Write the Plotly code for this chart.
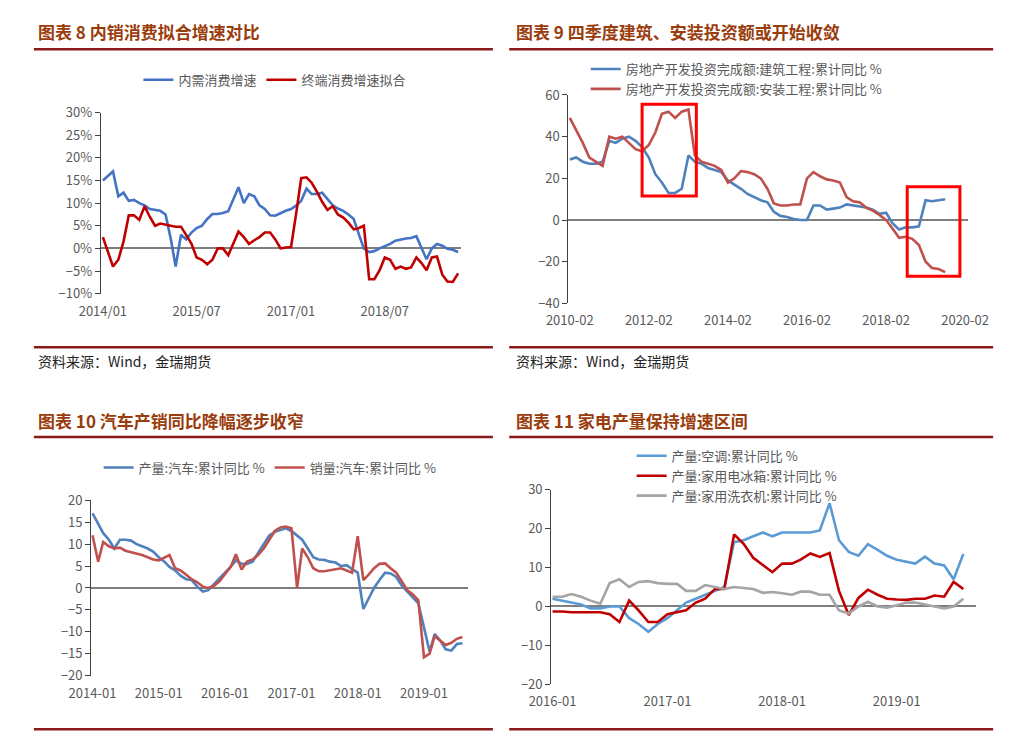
import pandas as pd
import plotly.graph_objects as go

W, H = 1009, 739
FONT = "Noto Sans CJK SC"

# ---- 图表8 内销消费拟合增速对比 (monthly from 2014-01, %) ----
c8_dates = pd.date_range("2014-01-01", periods=69, freq="MS")
c8_domestic = [15, 16, 17, 11.5, 12.3, 10.5, 10.7, 10, 9.5, 8.7, 8.5, 8.3, 7.5, 2, -4, 3, 2, 3.5, 4.5, 5,
               6.5, 7.6, 7.6, 7.8, 8.2, 11, 13.5, 10, 12, 11.5, 9.5, 8.7, 7.3, 7.2, 7.8, 8.3, 8.7, 9.5, 10.5, 13.2,
               12, 12, 12.3, 11, 9.5, 8.8, 8.3, 7.5, 6.5, 3, 0, -0.8, -0.6, 0, 0.5, 1, 1.7, 2, 2.2, 2.3,
               2.7, 0, -2.4, 0, 1, 0.6, -0.1, -0.3, -0.8]
c8_fitted = [2.5, -1, -4, -2.5, 1.5, 7.3, 7.3, 6.3, 9.3, 7, 5, 5.5, 5.2, 5, 4.8, 4.8, 3, 1, -2, -2.5,
             -3.5, -2.5, 0, 0, -1.5, 1, 3.7, 2.5, 1, 1.8, 2.5, 3.5, 3.5, 2, 0, 0.2, 0.3, 8, 15.5, 15.7,
             14.5, 12.5, 10.3, 8.5, 9.3, 7.5, 6.8, 5.7, 4.2, 4.5, 5, -6.8, -6.8, -4.8, -2, -2.5, -4.5, -4, -4.5, -4.2,
             -2, -3.3, -4.8, -2, -1.8, -5.8, -7.3, -7.4, -5.5]

# ---- 图表9 建筑、安装投资额 (every 2 months from 2010-02, %) ----
c9_dates = pd.date_range("2010-02-01", periods=58, freq="2MS")
c9_build = [29, 30, 28, 27, 27, 28, 38, 37, 39, 40, 38, 35, 30, 22, 18, 13, 13, 15, 31, 28,
            27, 25, 24, 23, 19, 17, 15, 12.5, 11, 9.5, 8.5, 4, 2, 1.5, 0.5, 0, 0, 7, 7, 5,
            5.5, 6, 7.5, 7, 6.5, 6, 5, 3, 3.5, -1.5, -4.5, -3.5, -3.5, -3, 9.5, 9, 9.5, 10]
c9_install = [49, 43, 37, 30, 28, 26, 40, 39, 40, 37, 34, 33, 36, 42, 51, 52, 49, 52, 53, 31,
              28, 27, 26, 24, 18, 20, 23.5, 23, 22, 20, 15, 8, 7, 7, 7.5, 7.5, 20, 23, 21, 19.5,
              19, 18, 11, 9, 8.5, 6, 4.5, 2.5, 0, -4, -8.5, -8, -9, -12, -20, -23, -23.5, -25]

# ---- 图表10 汽车产销 (monthly from 2014-01, %) ----
c10_dates = pd.date_range("2014-01-01", periods=68, freq="MS")
c10_prod = [17, 14.5, 12.5, 11, 9, 11, 11, 10.8, 10, 9.5, 9, 8.3, 7, 6, 4.8, 4, 2.8, 2, 1.8, 0.3,
            -0.8, -0.5, 1, 2.2, 3.5, 4.8, 6.3, 5.5, 5.5, 6, 8, 10, 12, 12.8, 13.2, 13.6, 13, 12, 11, 9,
            7, 6.5, 6.4, 6, 5.8, 5, 5.2, 4.3, 3.5, -4.8, -2.5, 0, 1.8, 3.5, 3.3, 2.5, 0.5, -0.8, -2.3, -3.5,
            -9, -14.5, -10.5, -12, -14, -14.3, -12.8, -12.6]
c10_sales = [12, 6, 10.5, 9.5, 9, 9.2, 8.5, 8.2, 7.8, 7.5, 7, 6.5, 6.3, 7, 7.5, 4.5, 4, 3, 2, 1.3,
             0.3, 0, 0.5, 1.5, 3.2, 4.8, 7.7, 4.2, 6, 6.5, 7.5, 9, 11, 13, 13.8, 14, 13.6, 0, 9, 7,
             4.5, 3.8, 3.8, 4, 4.3, 4.5, 4, 3.5, 11.8, 1.8, 3, 4.5, 5.5, 5.6, 4.5, 3.5, 1.5, -0.5, -1.5, -2.8,
             -15.8, -15, -11, -12, -13, -12.5, -11.6, -11.2]

# ---- 图表11 家电产量 (monthly from 2016-01, %) ----
c11_dates = pd.date_range("2016-01-01", periods=44, freq="MS")
c11_ac = [2, 1.5, 1, 0.5, -0.5, -0.5, 0, 0, -3, -4.5, -6.5, -4.5, -3, -1, 1, 2, 3, 4, 5, 16.5,
          17, 18, 19, 18, 19, 19, 19, 19, 19.5, 26.5, 17, 14, 13, 16, 14.5, 13, 12, 11.5, 11, 12.8,
          11, 10.5, 7, 13.5]
c11_fridge = [-1.3, -1.3, -1.5, -1.5, -1.5, -1.5, -2, -4, 1.5, -1, -4, -4, -2, -1.5, -1, 1, 2, 4.5, 4.5, 18.5,
              16, 12.5, 10.5, 8.8, 11, 11, 12, 13.6, 12.7, 13.7, 4, -2.2, 2.2, 4.3, 3, 2, 1.8, 1.7, 2, 2,
              2.8, 2.5, 6.3, 4.5]
c11_washer = [2.5, 2.5, 3.2, 2.5, 1.5, 0.7, 6, 7, 5, 6.3, 6.5, 6, 5.8, 5.8, 4, 4, 5.5, 5, 4.5, 5,
              4.8, 4.5, 3.5, 3.7, 3.4, 3, 3.8, 3.8, 3, 3, -1, -1.8, 0, 1.2, 0, -0.3, 0.3, 1, 1, 0.5,
              0, -0.5, 0, 2]


def px_x(p):
    return p / W


def px_y(p):
    return 1 - p / H


fig = go.Figure()

lw = 2.6
fig.add_trace(go.Scatter(x=c8_dates, y=c8_domestic, name="内需消费增速", line=dict(color="#4472C4", width=lw), xaxis="x", yaxis="y", legend="legend"))
fig.add_trace(go.Scatter(x=c8_dates, y=c8_fitted, name="终端消费增速拟合", line=dict(color="#C00000", width=lw), xaxis="x", yaxis="y", legend="legend"))
fig.add_trace(go.Scatter(x=c9_dates, y=c9_build, name="房地产开发投资完成额:建筑工程:累计同比 %", line=dict(color="#4F81BD", width=lw), xaxis="x2", yaxis="y2", legend="legend2"))
fig.add_trace(go.Scatter(x=c9_dates, y=c9_install, name="房地产开发投资完成额:安装工程:累计同比 %", line=dict(color="#C0504D", width=lw), xaxis="x2", yaxis="y2", legend="legend2"))
fig.add_trace(go.Scatter(x=c10_dates, y=c10_prod, name="产量:汽车:累计同比 %", line=dict(color="#4F81BD", width=lw), xaxis="x3", yaxis="y3", legend="legend3"))
fig.add_trace(go.Scatter(x=c10_dates, y=c10_sales, name="销量:汽车:累计同比 %", line=dict(color="#C0504D", width=lw), xaxis="x3", yaxis="y3", legend="legend3"))
fig.add_trace(go.Scatter(x=c11_dates, y=c11_ac, name="产量:空调:累计同比 %", line=dict(color="#5B9BD5", width=lw), xaxis="x4", yaxis="y4", legend="legend4"))
fig.add_trace(go.Scatter(x=c11_dates, y=c11_fridge, name="产量:家用电冰箱:累计同比 %", line=dict(color="#C00000", width=lw), xaxis="x4", yaxis="y4", legend="legend4"))
fig.add_trace(go.Scatter(x=c11_dates, y=c11_washer, name="产量:家用洗衣机:累计同比 %", line=dict(color="#A5A5A5", width=lw), xaxis="x4", yaxis="y4", legend="legend4"))

tickfont = dict(family=FONT, size=13, color="#595959")


def xax(x0, x1, anchor, rng, tick0, dtick, fmt):
    return dict(domain=[px_x(x0), px_x(x1)], anchor=anchor, type="date", range=rng,
                tick0=tick0, dtick=dtick, tickformat=fmt, showgrid=False, showline=False,
                zeroline=False, tickfont=tickfont, ticks="", fixedrange=True,
                ticklabelstandoff=8)


def yax(y_top, y_bot, anchor, rng, dtick, pct=False):
    d = dict(domain=[px_y(y_bot), px_y(y_top)], anchor=anchor, range=rng, dtick=dtick,
             showgrid=False, showline=True, linecolor="#404040", linewidth=1.2,
             ticks="outside", ticklen=5, tickcolor="#404040", zeroline=True,
             zerolinecolor="#7f7f7f", zerolinewidth=1.5, tickfont=tickfont)
    if pct:
        d["ticksuffix"] = "%"
    return d


legfont = dict(family=FONT, size=13, color="#595959")
fig.update_layout(
    width=W, height=H, margin=dict(l=0, r=0, t=0, b=0),
    paper_bgcolor="white", plot_bgcolor="white", showlegend=True,
    font=dict(family=FONT, color="#595959"),
    xaxis=xax(73, 450, "y", ["2013-12-20", "2019-09-20"], "2014-01-01", "M18", "%Y/%m"),
    yaxis=yax(97, 283, "x", [-10, 30], 5, pct=True),
    xaxis2=xax(562, 980, "y2", ["2010-01-20", "2020-03-01"], "2010-02-01", "M24", "%Y-%m"),
    yaxis2=yax(79, 293, "x2", [-40, 60], 20),
    xaxis3=xax(63, 457, "y3", ["2013-12-25", "2019-09-01"], "2014-01-01", "M12", "%Y-%m"),
    yaxis3=yax(495, 675, "x3", [-20, 20], 5),
    xaxis4=xax(544, 988, "y4", ["2015-12-28", "2019-09-10"], "2016-01-01", "M12", "%Y-%m"),
    yaxis4=yax(484, 684, "x4", [-20, 30], 10),
    legend=dict(orientation="h", x=px_x(255), y=px_y(48), xanchor="center", yanchor="top", font=legfont, bgcolor="rgba(0,0,0,0)"),
    legend2=dict(orientation="v", x=px_x(580), y=px_y(37), xanchor="left", yanchor="top", font=legfont, tracegroupgap=0, bgcolor="rgba(0,0,0,0)"),
    legend3=dict(orientation="h", x=px_x(250), y=px_y(446), xanchor="center", yanchor="top", font=legfont, bgcolor="rgba(0,0,0,0)"),
    legend4=dict(orientation="v", x=px_x(628), y=px_y(434), xanchor="left", yanchor="top", font=legfont, tracegroupgap=0, bgcolor="rgba(0,0,0,0)"),
)

# titles, separators, sources
title_color = "#9A3C0C"
rule_color = "#8B1A1A"
titles = [("图表 8 内销消费拟合增速对比", 5, 14), ("图表 9 四季度建筑、安装投资额或开始收敛", 505, 14),
          ("图表 10 汽车产销同比降幅逐步收窄", 5, 413), ("图表 11 家电产量保持增速区间", 505, 413)]
for txt, x, y in titles:
    fig.add_annotation(text="<b>" + txt + "</b>", x=px_x(x), y=px_y(y), xref="paper", yref="paper",
                       xanchor="left", yanchor="middle", showarrow=False,
                       font=dict(family=FONT, size=17, color=title_color))
for y in [32, 338, 430, 730]:
    for x0, x1 in [(3, 483), (500, 1006)]:
        fig.add_shape(type="line", xref="paper", yref="paper", x0=px_x(x0), x1=px_x(x1),
                      y0=px_y(y), y1=px_y(y), line=dict(color=rule_color, width=2.5))
for x in [5, 505]:
    fig.add_annotation(text="资料来源：Wind，金瑞期货", x=px_x(x), y=px_y(352), xref="paper", yref="paper",
                       xanchor="left", yanchor="middle", showarrow=False,
                       font=dict(family=FONT, size=14, color="#222222"))

# red highlight boxes on chart 9
for x0, x1, y0, y1 in [("2011-12-01", "2013-04-15", 11.5, 55.5), ("2018-08-15", "2019-12-15", -27, 16)]:
    fig.add_shape(type="rect", xref="x2", yref="y2", x0=x0, x1=x1, y0=y0, y1=y1,
                  line=dict(color="#FF0000", width=3))

fig.write_html("out.html")
